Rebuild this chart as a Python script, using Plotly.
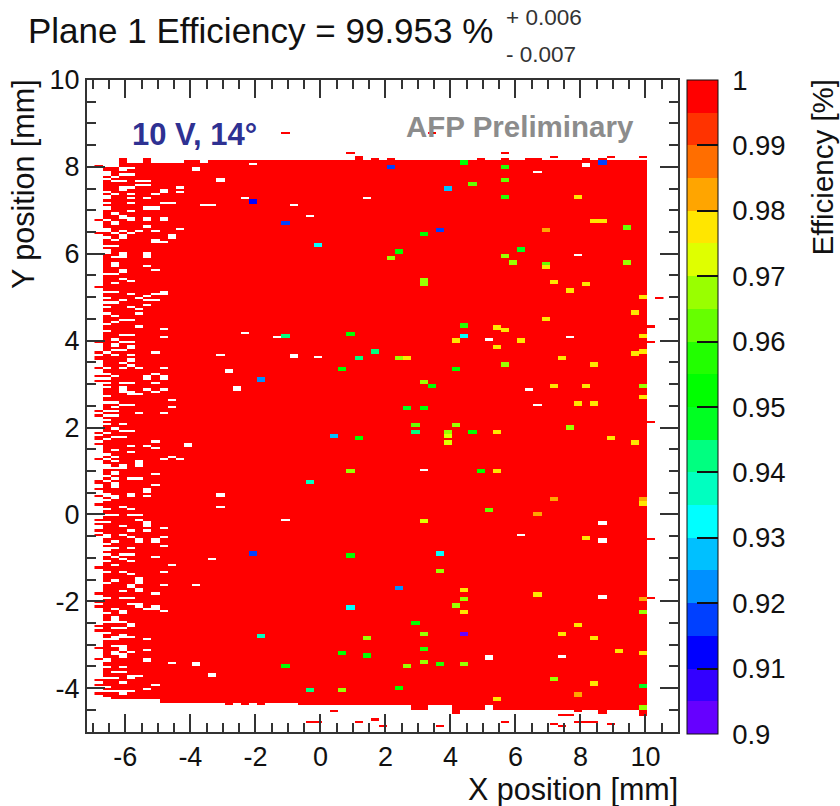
import numpy as np
import plotly.graph_objects as go

# Histogram binning (mm)
BIN_X, BIN_Y = 0.25, 0.05
X_FIRST, Y_FIRST = -6.95, -5.05
N_X, N_Y = 70, 280

# Outline of the active area per sensor column (mm), columns start at x = -6.70
col_top = [8.00, 8.00, 8.20, 8.10, 8.10, 8.20, 8.10, 8.10, 8.10, 8.10,
           8.15, 8.15, 8.10, 8.15, 8.15, 8.15, 8.15, 8.15, 8.15, 8.15,
           8.15, 8.15, 8.15, 8.15, 8.15, 8.15, 8.15, 8.15, 8.15, 8.15,
           8.15, 8.25, 8.15, 8.20, 8.15, 8.20, 8.15, 8.15, 8.15, 8.15,
           8.15, 8.15, 8.15, 8.15, 8.15, 8.15, 8.20, 8.15, 8.15, 8.20,
           8.15, 8.15, 8.20, 8.20, 8.15, 8.15, 8.15, 8.15, 8.15, 8.20,
           8.15, 8.20, 8.15, 8.15, 8.15, 8.15, 8.15]
col_bottom = [-4.18, -4.27, -4.27, -4.27, -4.27, -4.27, -4.27, -4.33, -4.33, -4.33,
              -4.33, -4.33, -4.33, -4.33, -4.33, -4.42, -4.33, -4.39, -4.33, -4.42,
              -4.33, -4.33, -4.33, -4.33, -4.39, -4.39, -4.39, -4.42, -4.39, -4.42,
              -4.39, -4.42, -4.42, -4.42, -4.39, -4.39, -4.42, -4.42, -4.51, -4.48,
              -4.42, -4.42, -4.42, -4.58, -4.51, -4.51, -4.48, -4.42, -4.48, -4.51,
              -4.48, -4.48, -4.48, -4.51, -4.48, -4.51, -4.51, -4.48, -4.48, -4.51,
              -4.51, -4.58, -4.51, -4.51, -4.51, -4.51, -4.58]

# Isolated fully efficient pixels outside the outline (x, y in mm)
stray_cells = [(-1.08, 8.77), (3.42, 8.77), (0.90, 8.31), (5.64, 8.31), (7.13, 8.22), (8.87, 8.22), (9.88, 8.22),
               (-6.83, 8.03), (-6.83, 6.76), (-6.83, 6.48), (-6.83, 5.23), (-6.83, 3.97), (-6.83, 3.74), (-6.83, 3.64),
               (-6.83, 3.56), (-6.83, 3.39), (-6.83, 3.18), (-6.83, 3.07), (-6.83, 2.39), (-6.83, 2.28), (-6.83, 1.90),
               (-6.83, 1.80), (-6.83, 1.72), (-6.83, 1.63), (-6.83, 1.26), (-6.83, 0.80), (-6.83, 0.71), (-6.83, 0.59),
               (-6.83, 0.41), (-6.83, 0.21), (-6.83, -0.10), (-6.83, -0.20), (-6.83, -0.37), (-6.83, -0.48), (-6.83, -1.21),
               (-6.83, -1.80), (-6.83, -2.02), (-6.83, -2.11), (-6.83, -2.57), (-6.83, -2.65), (-6.83, -3.07), (-6.83, -3.31),
               (-6.83, -3.82), (-6.83, -3.92), (-6.83, -4.11),
               (10.41, 4.98), (10.16, 4.32), (10.16, 3.99), (10.16, 2.13), (10.16, -0.56), (10.16, -1.92),
               (-0.33, -4.76), (-0.08, -4.79), (0.41, -4.54), (1.15, -4.76), (1.65, -4.70), (1.90, -4.88), (3.65, -4.88),
               (5.64, -4.76), (7.38, -4.64), (7.64, -4.61), (7.89, -4.54), (7.13, -4.85), (7.38, -4.88), (7.90, -4.79),
               (8.13, -4.76), (8.39, -4.79), (8.86, -4.85), (9.91, -4.64)]

# Pixels with no data inside the active area: (y, [x, ...]) in mm
gap_rows = [
    (7.97, [-6.08, -5.83, -3.83]), (7.88, [-6.58]), (7.83, [-6.08, -5.83]), (7.76, [-6.33]), (7.72, [-6.58, -3.08]),
    (7.67, [-6.33, -6.08, -5.58, -5.33]), (7.58, [-5.58, -5.33]), (7.55, [-6.08]), (7.52, [-5.83, -4.33]),
    (7.47, [-4.83]), (7.43, [-4.33, -6.58]), (7.36, [-6.33, -5.83, -5.08]), (7.32, [-6.58]), (7.27, [-5.83, -5.33]),
    (7.18, [-5.83, -6.58, -4.83, -4.58]), (7.12, [-3.58, -3.33]), (7.07, [-6.58, -5.33, -5.08]), (7.03, [-6.58, -5.33]),
    (6.96, [-5.83]), (6.93, [-6.33]), (6.86, [-6.08]), (6.82, [-5.33, -4.83, -6.08]), (6.78, [-6.58]), (6.74, [-6.33]),
    (6.62, [-5.33]), (6.59, [-6.58]), (6.56, [-4.33]), (6.53, [-6.08, -5.58, -5.08]), (6.47, [-6.33, -5.83]),
    (6.42, [-6.08, -4.58]), (6.38, [-6.58]), (6.34, [-5.08]), (6.31, [-6.33]), (6.28, [-4.83]), (6.18, [-6.58, -6.33]),
    (6.08, [-6.58]), (6.01, [-6.08, -5.33]), (5.95, [-6.33, -6.08, -5.33]), (5.79, [-6.33]), (5.73, [-6.33, -5.33]),
    (5.64, [-5.08, -6.08]), (5.58, [-6.08]), (5.52, [-6.58, -6.33]), (5.42, [-6.08]), (5.38, [-5.83]), (5.32, [-6.33]),
    (5.14, [-6.58, -6.33]), (5.11, [-4.83]), (5.08, [-5.83, -5.08, -4.83]), (5.01, [-5.33]), (4.99, [-5.58, -6.58]),
    (4.92, [-6.08, -5.33, -5.08]), (4.87, [-6.58, -6.33]), (4.83, [-5.33]), (4.77, [-5.83, -6.58]), (4.73, [-5.58]),
    (4.63, [-5.58, -6.58]), (4.58, [-6.33]), (4.47, [-6.08, -5.83]), (4.43, [-6.33]), (4.39, [-6.58]), (4.35, [-5.58]),
    (4.27, [-4.83]), (4.21, [-6.58]), (4.12, [-6.08, -5.83]), (4.09, [-4.83]), (4.03, [-6.33]), (3.98, [-6.08, -5.83]),
    (3.91, [-6.33]), (3.89, [-5.83]), (3.83, [-5.83]), (3.77, [-6.33, -6.08]), (3.74, [-6.58]), (3.72, [-5.08]),
    (3.69, [-6.33, -5.83, -3.08]), (3.60, [-5.83]), (3.52, [-5.83]), (3.47, [-6.08]), (3.44, [-5.83]),
    (3.37, [-6.08, -6.58, -5.58, -4.83]), (3.33, [-2.83]), (3.24, [-6.58]), (3.22, [-5.08]), (3.18, [-5.33, -6.33]),
    (3.16, [-4.83]), (3.15, [-6.58]), (3.04, [-6.08, -5.83, -5.08]), (3.01, [-6.58]), (2.93, [-2.58]),
    (2.91, [-6.58, -6.08]), (2.89, [-5.33, -4.83]), (2.84, [-5.83, -6.08]), (2.82, [-5.08]), (2.79, [-5.58]),
    (2.75, [-6.58]), (2.64, [-4.58]), (2.58, [-6.58, -6.33]), (2.55, [-6.08, -5.83]), (2.49, [-6.33, -4.58]),
    (2.39, [-6.58, -6.33]), (2.33, [-5.58, -4.83]), (2.28, [-6.58, -6.33]), (2.17, [-6.58]), (2.09, [-6.58]),
    (2.08, [-6.08]), (1.99, [-6.33]), (1.93, [-6.08, -5.83]), (1.90, [-6.58]), (1.79, [-6.33, -6.08]), (1.74, [-6.58]),
    (1.68, [-5.08]), (1.63, [-4.08]), (1.59, [-5.83, -5.33]), (1.53, [-5.08]), (1.50, [-6.33]), (1.43, [-5.83]),
    (1.40, [-6.58]), (1.34, [-6.33, -4.58]), (1.28, [-4.83, -4.33]), (1.26, [-6.58]), (1.25, [-6.33]), (1.22, [-5.58]),
    (1.15, [-6.58, -5.58]), (1.14, [-6.08]), (1.09, [-6.33]), (0.99, [-6.33]), (0.94, [-5.08]), (0.88, [-6.58]),
    (0.84, [-6.33, -5.83, -5.58]), (0.78, [-6.58]), (0.72, [-6.33]), (0.69, [-5.08]), (0.65, [-6.33]), (0.57, [-5.33]),
    (0.48, [-6.58, -5.83, -3.08]), (0.44, [-5.33]), (0.41, [-6.33, -6.58]), (0.33, [-6.58]), (0.19, [-6.08, -3.08]),
    (0.13, [-5.83]), (0.11, [-6.58]), (-0.02, [-6.58, -6.33, -5.83, -5.58]), (-0.11, [-5.58]), (-0.15, [-5.33]),
    (-0.17, [-6.58]), (-0.27, [-6.08, -5.33]), (-0.30, [-4.83]), (-0.36, [-5.83, -5.33]), (-0.45, [-6.08]),
    (-0.48, [-6.58]), (-0.51, [-5.83, -4.83]), (-0.56, [-5.58, -5.08]), (-0.61, [-6.33]), (-0.67, [-6.58]),
    (-0.70, [-4.83]), (-0.77, [-5.83]), (-0.79, [-6.58, -6.33]), (-0.92, [-6.58, -6.08, -5.83]), (-0.95, [-6.33, -5.08]),
    (-1.01, [-6.08, -3.33]), (-1.06, [-5.83]), (-1.07, [-6.58]), (-1.17, [-6.33, -4.58]), (-1.30, [-6.58]),
    (-1.32, [-6.08, -4.83]), (-1.35, [-5.83]), (-1.46, [-5.58]), (-1.50, [-6.33]), (-1.56, [-6.58, -5.58]),
    (-1.60, [-4.83, -3.83]), (-1.63, [-5.83]), (-1.70, [-5.58]), (-1.75, [-6.08]), (-1.81, [-5.08]), (-1.90, [-6.58]),
    (-1.91, [-6.08, -5.83]), (-2.06, [-5.83]), (-2.09, [-5.58]), (-2.11, [-5.08]), (-2.16, [-5.33, -6.33]),
    (-2.22, [-4.83]), (-2.25, [-6.58]), (-2.23, [-6.08]), (-2.35, [-6.33]), (-2.45, [-6.58, -6.33, -6.08]),
    (-2.51, [-5.83]), (-2.62, [-6.33]), (-2.63, [-6.08]), (-2.71, [-6.58]), (-2.75, [-6.08]), (-2.81, [-5.83, -6.33]),
    (-2.86, [-5.33]), (-2.89, [-6.58, -6.33]), (-3.00, [-6.33, -6.08]), (-3.11, [-6.08, -5.33]), (-3.15, [-5.83]),
    (-3.17, [-6.33]), (-3.24, [-6.08]), (-3.32, [-6.58, -5.33]), (-3.41, [-3.83]), (-3.44, [-4.58]), (-3.54, [-6.58, -6.08]),
    (-3.63, [-6.33, -6.08]), (-3.65, [-3.33]), (-3.73, [-5.83]), (-3.70, [-5.58]), (-3.79, [-6.58, -6.33]), (-3.85, [-6.08]),
    (-3.94, [-5.08]), (-3.99, [-6.58]), (-4.00, [-5.33]), (-4.05, [-6.08]), (-4.10, [-5.83, -6.58, -6.33]),
    (8.08, [-2.07]), (7.28, [-2.31, 1.41]), (7.12, [-0.82]), (6.87, [-0.33]), (7.86, [6.65]), (8.10, [8.12]), (5.97, [7.88]),
    (4.19, [-2.31]), (4.09, [-1.32, 7.63]), (4.03, [5.16]), (3.66, [-0.83]), (3.63, [-0.08]), (3.33, [-2.75]), (2.93, [-2.56]),
    (2.89, [6.39]), (2.55, [6.65]), (1.03, [3.18]), (-0.11, [-1.08]), (-0.16, [8.62]), (-0.56, [8.62]), (-0.45, [6.15]),
    (-1.86, [8.62]), (-3.25, [5.15]), (-3.29, [7.38]),
]

# Empty pixels that read thicker in the picture (two bins high), (x, y in mm)
gap_blocks = [(-6.08, 7.97), (-6.58, 7.88), (-3.83, 7.97), (-3.08, 7.72), (-6.08, 7.55), (-4.83, 7.47), (-6.58, 7.32),
              (-5.33, 7.07), (-5.08, 7.07), (-6.08, 6.86), (-5.83, 6.82), (-5.33, 6.82), (-4.83, 6.82), (-6.33, 6.74),
              (-6.58, 6.59), (-5.08, 6.34), (-4.58, 6.42), (-6.08, 6.42), (-6.58, 6.08), (-6.08, 6.01), (-5.33, 6.01),
              (-6.33, 5.79), (-6.08, 5.64), (-5.83, 3.60), (-4.83, 3.16), (-5.33, 3.18), (-5.83, 2.84), (-6.08, 2.91),
              (-2.83, 3.33), (-2.58, 2.93), (-6.33, 3.91), (-4.08, 1.63), (-5.58, 1.22), (-6.08, 1.14), (-6.58, 1.15),
              (-6.33, 0.99), (-6.33, 0.72), (-5.33, 0.57), (-5.83, 0.48), (-3.08, 0.48), (-5.33, -0.15), (-6.33, 0.41),
              (-6.58, -0.48), (-5.58, -0.56), (-5.08, -0.56), (-6.58, -0.79), (-5.83, -1.63), (-5.58, -1.70), (-5.58, -1.46),
              (-5.58, -2.09), (-5.08, -2.11), (-6.08, -2.23), (-6.33, -2.35), (-5.83, -2.51), (-6.08, -2.75), (-6.08, -3.00),
              (-6.33, -3.17), (-6.08, -3.24), (-6.58, -3.32), (-5.33, -3.32), (-3.83, -3.41), (-3.33, -3.65), (-5.83, -3.73),
              (-6.08, -4.05), (-0.83, 3.66), (-2.56, 2.93), (8.62, -0.16), (8.62, -0.56), (8.62, -1.86), (8.12, 8.10),
              (5.15, -3.25), (-2.75, 3.33)]

# Pixels with reduced efficiency (x mm, y mm, efficiency)
low_cells = [
    (2.13, 8.00, .9175), (4.39, 8.12, .9525), (5.64, 8.00, .9575), (8.62, 8.12, .9175), (5.64, 7.72, .9625), (4.65, 7.60, .9625),
    (3.90, 7.48, .9275), (5.64, 7.32, .9575), (7.87, 7.32, .9775), (-2.09, 7.22, .9125), (-1.08, 6.71, .9175), (3.65, 6.57, .9175),
    (8.36, 6.76, .9775), (8.61, 6.76, .9775), (6.87, 6.57, .9825), (9.40, 6.61, .9625), (3.16, 6.43, .9525), (-0.10, 6.18, .9325),
    (2.40, 6.06, .9525), (6.13, 6.12, .9475), (2.12, 5.92, .9675), (5.64, 5.96, .9675), (5.90, 5.80, .9675), (9.40, 5.80, .9675),
    (6.87, 5.77, .9625), (6.87, 5.68, .9775), (3.16, 5.39, .9675), (3.16, 5.30, .9675), (7.12, 5.37, .9775), (8.11, 5.28, .9775),
    (7.62, 5.16, .9775), (9.91, 4.98, .9775), (6.87, 4.51, .9775), (9.64, 4.63, .9775), (4.39, 4.37, .9575), (5.39, 4.32, .9775),
    (5.64, 4.26, .9775), (0.88, 4.17, .9525), (-1.10, 4.08, .9425), (4.39, 4.11, .9325), (4.14, 3.99, .9775), (6.13, 4.02, .9775),
    (9.91, 4.08, .9775), (5.39, 3.83, .9775), (1.63, 3.77, .9425), (1.14, 3.62, .9425), (2.40, 3.62, .9675), (2.67, 3.58, .9775),
    (7.37, 3.62, .9775), (9.64, 3.68, .9775), (9.91, 3.73, .9775), (5.64, 3.43, .9675), (8.36, 3.43, .9775), (0.64, 3.33, .9525),
    (4.14, 3.33, .9525), (-1.84, 3.12, .9225), (3.16, 3.07, .9675), (3.41, 2.93, .9525), (7.13, 2.97, .9775), (8.11, 2.93, .9775),
    (9.91, 2.93, .9675), (9.91, 2.68, .9775), (7.87, 2.54, .9775), (8.36, 2.54, .9775), (2.67, 2.44, .9475), (3.16, 2.47, .9525),
    (2.91, 2.07, .9625), (4.15, 2.07, .9675), (2.91, 1.91, .9425), (7.62, 1.98, .9675), (3.90, 1.88, .9675), (3.90, 1.79, .9725),
    (4.65, 1.88, .9525), (5.39, 1.88, .9775), (3.90, 1.67, .9725), (8.85, 1.73, .9775), (9.64, 1.67, .9775), (0.39, 1.82, .9275),
    (1.14, 1.73, .9525), (0.88, 0.99, .9675), (4.89, 0.99, .9525), (5.40, 1.02, .9775), (-0.34, 0.77, .9375), (7.12, 0.33, .9825),
    (9.91, 0.33, .9825), (9.91, 0.24, .9775), (5.14, 0.12, .9625), (6.63, -0.02, .9825), (3.16, -0.16, .9725), (8.11, -0.56, .9775),
    (-2.07, -0.92, .9175), (0.88, -0.95, .9525), (3.65, -0.92, .9325), (3.65, -1.32, .9675), (2.40, -1.70, .9225), (4.39, -1.77, .9775),
    (6.63, -1.86, .9775), (4.39, -1.97, .9675), (9.91, -1.97, .9825), (0.88, -2.17, .9325), (4.14, -2.11, .9675), (4.39, -2.23, .9775),
    (9.91, -2.26, .9675), (2.91, -2.50, .9525), (7.87, -2.57, .9775), (3.16, -2.75, .9675), (7.37, -2.75, .9775), (4.39, -2.75, .9025),
    (-1.84, -2.81, .9375), (1.39, -2.86, .9675), (8.36, -2.86, .9775), (3.16, -3.12, .9575), (0.64, -3.21, .9525), (1.39, -3.25, .9525),
    (9.12, -3.16, .9775), (9.91, -3.21, .9775), (3.16, -3.40, .9675), (3.65, -3.46, .9575), (4.39, -3.46, .9675), (-1.10, -3.51, .9525),
    (2.67, -3.51, .9675), (7.12, -3.80, .9675), (8.36, -3.89, .9775), (2.40, -4.02, .9525), (-0.35, -4.05, .9425), (0.64, -4.05, .9675),
    (7.87, -4.15, .9825), (9.91, -3.95, .9475), (5.39, -4.27, .9775), (9.91, -4.45, .9675),
]

palette = ["#6600ff", "#3300ff", "#0000ff", "#0040ff", "#0090ff", "#00c0ff", "#00ffff", "#00ffc0", "#00ff80", "#00ff22",
           "#00ff00", "#22ff00", "#66ff00", "#99ff00", "#dfff00", "#ffe600", "#ffa500", "#ff6e00", "#ff3300", "#ff0000"]
cbar_vals = [0.90, 0.91, 0.92, 0.93, 0.94, 0.95, 0.96, 0.97, 0.98, 0.99, 1.0]
cbar_text = ["0.9", "0.91", "0.92", "0.93", "0.94", "0.95", "0.96", "0.97", "0.98", "0.99", "1"]
x_ticks = [-6, -4, -2, 0, 2, 4, 6, 8, 10]
y_ticks = [-4, -2, 0, 2, 4, 6, 8, 10]

x_centers = X_FIRST + BIN_X * (np.arange(N_X) + 0.5)
y_centers = Y_FIRST + BIN_Y * (np.arange(N_Y) + 0.5)
z = np.full((N_Y, N_X), np.nan)


def bin_of(x, y):
    return int((y - Y_FIRST) // BIN_Y), int((x - X_FIRST) // BIN_X)


for k, (top, bottom) in enumerate(zip(col_top, col_bottom)):
    inside = (y_centers < top) & (y_centers > bottom)
    z[inside, k + 1] = 1.0
for x, y in stray_cells:
    z[bin_of(x, y)] = 1.0
for y, xs in gap_rows:
    for x in xs:
        z[bin_of(x, y)] = np.nan
for x, y in gap_blocks:
    r, c = bin_of(x, y)
    z[r - 1:r + 1, c] = np.nan
for x, y, eff in low_cells:
    r, c = bin_of(x, y - BIN_Y / 2)
    z[r:r + 2, c] = eff

n = len(palette)
scale = []
for i, c in enumerate(palette):
    scale += [[i / n, c], [(i + 1) / n, c]]

# canvas layout in pixels
W, H = 840, 806
L, R, T, B = 87, 678, 80, 732


def px(v):
    return (v - L) / (R - L)


def py(v):
    return 1 - (v - T) / (B - T)


fig = go.Figure(go.Heatmap(
    x=x_centers, y=y_centers, z=z, zmin=0.9, zmax=1.0, colorscale=scale, hoverongaps=False,
    colorbar=dict(
        x=px(687), xanchor="left", xpad=0, y=py(734), yanchor="bottom", ypad=0, yref="paper",
        len=654, lenmode="pixels", thickness=31, thicknessmode="pixels",
        outlinecolor="#111111", outlinewidth=1,
        tickmode="array", tickvals=cbar_vals, ticktext=["\u00a0" + t for t in cbar_text],
        ticks="inside", ticklen=21, tickwidth=2, tickcolor="#111111",
        tickfont=dict(family="Liberation Sans", size=27.5, color="#111111"),
    ),
))

axis_common = dict(
    ticks="inside", ticklen=18, tickwidth=2, tickcolor="#333333", mirror="ticks",
    showline=True, linecolor="#333333", linewidth=2, showgrid=False, zeroline=False,
    tickfont=dict(family="Liberation Sans", size=27, color="#111111"),
    minor=dict(ticks="inside", dtick=0.5, tick0=0, ticklen=9, tickwidth=2, tickcolor="#333333", showgrid=False),
)
fig.update_xaxes(range=[-7.18, 11.0], tickmode="array", tickvals=x_ticks, ticktext=[str(v) for v in x_ticks],
                 **axis_common)
fig.update_yaxes(range=[-5.01, 10.0], tickmode="array", tickvals=y_ticks, ticktext=[str(v) for v in y_ticks],
                 **axis_common)


def note(text, x, y, size, xanchor="left", yanchor="middle", color="#111111", bold=False, angle=0):
    fig.add_annotation(text=f"<b>{text}</b>" if bold else text, xref="paper", yref="paper",
                       x=px(x), y=py(y), xanchor=xanchor, yanchor=yanchor, showarrow=False, textangle=angle,
                       font=dict(family="Liberation Sans", size=size, color=color))


note("Plane 1 Efficiency = 99.953 %", 26, 30, 35)
note("+ 0.006", 504, 18, 22.5, color="#333333")
note("- 0.007", 504, 54, 22.5, color="#333333")
note("10 V, 14°", 130, 135, 31, color="#2e3192", bold=True)
note("AFP Preliminary", 404, 126, 29.5, color="#8c8c8c", bold=True)
note("X position [mm]", 680, 789, 30.5, xanchor="right")
note("Y position [mm]", 24, 77, 30.5, xanchor="center", yanchor="top", angle=-90)
note("Efficiency [%]", 822, 77, 29.5, xanchor="center", yanchor="top", angle=-90)

fig.update_layout(width=W, height=H, margin=dict(l=L, r=W - R, t=T, b=H - B),
                  paper_bgcolor="white", plot_bgcolor="white", showlegend=False)
fig.write_html("out.html", config={"displayModeBar": False},
               post_script="document.body.style.margin='0';document.body.style.overflow='hidden';")
